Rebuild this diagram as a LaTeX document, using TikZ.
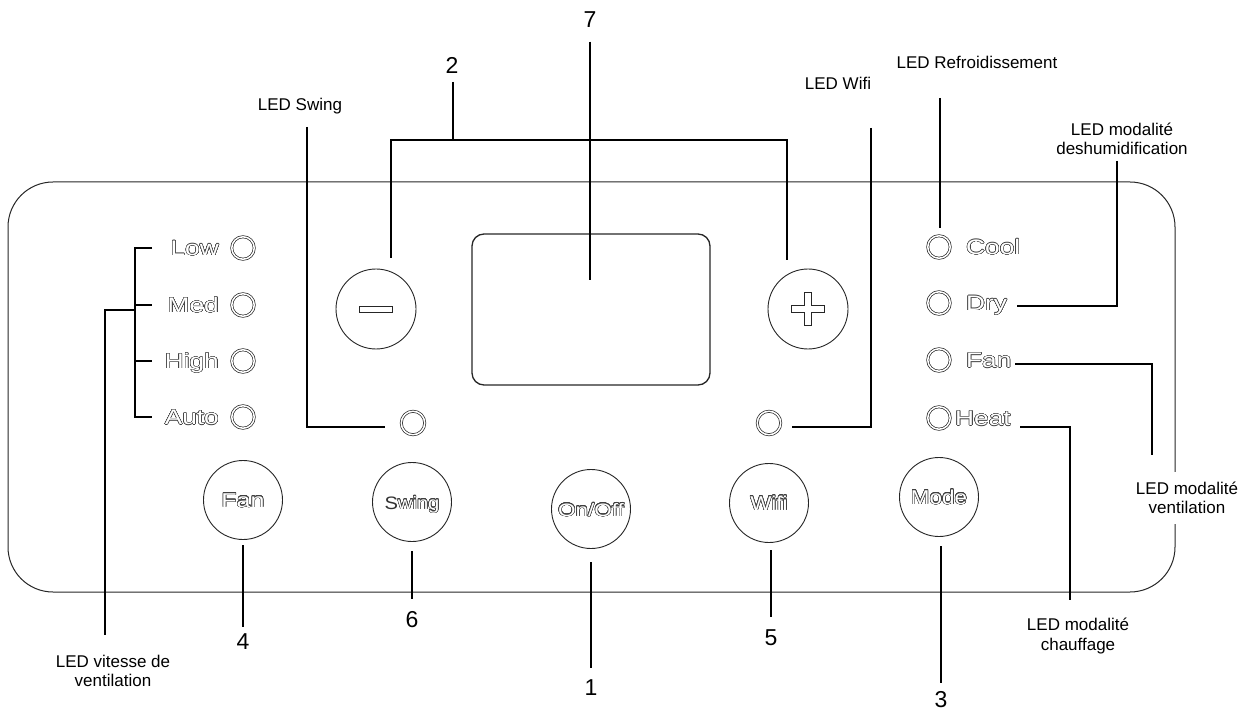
\documentclass[tikz,border=0pt]{standalone}
\usepackage{fontspec}
\setmainfont{Liberation Sans}
\newfontfamily\wideface[FakeStretch=1.25]{Liberation Sans}
\newfontfamily\btnface[FakeStretch=1.12]{Liberation Sans}
\usepackage[copies]{contour}
\contourlength{0.5pt}
\contournumber{24}
\newcommand{\hollow}[1]{{\color{white}\contour{black!75}{#1}}}
\begin{document}
\begin{tikzpicture}[x=1pt,y=-1pt,
  lead/.style={line width=2pt},
  btn/.style={circle, draw=black!85, line width=0.9pt, minimum size=79pt, inner sep=0pt, text height=14pt, text depth=0pt},
  topbtn/.style={circle, draw=black!85, line width=0.9pt, minimum size=80pt, inner sep=0pt},
  led/.style={circle, draw=black!85, line width=0.7pt, double, double distance=1.5pt, minimum size=22.5pt, inner sep=0pt},
  lbl/.style={font=\fontsize{17}{19.5}\selectfont, align=center, inner sep=0pt},
  num/.style={font=\fontsize{23}{23}\selectfont, inner sep=0pt},
  ledtxt/.style={font=\wideface\fontsize{21}{21}\selectfont, inner sep=0pt, text height=15pt, text depth=0pt},
]
\useasboundingbox (0,0) rectangle (1248,711);

% panel and display
\node[draw=black!85, line width=1pt, rounded corners=45pt, minimum width=1167pt, minimum height=410pt, inner sep=0pt] (panel) at (591.5,387) {};
\node[draw=black!85, line width=1.3pt, rounded corners=12pt, minimum width=238pt, minimum height=151pt, inner sep=0pt] (disp) at (591,309.5) {};

% minus / plus buttons
\node[topbtn] (minus) at (376,309) {};
\node[draw=black!85, line width=0.7pt, minimum width=33pt, minimum height=6pt, inner sep=0pt] (minusbar) at (minus) {};
\node[topbtn] (plus) at (808,309) {};
\draw[line width=0.7pt, draw=black!85] (804.5,292.5) -- (811.5,292.5) -- (811.5,305.5) -- (824.5,305.5) -- (824.5,312.5) -- (811.5,312.5) -- (811.5,325.5) -- (804.5,325.5) -- (804.5,312.5) -- (791.5,312.5) -- (791.5,305.5) -- (804.5,305.5) -- cycle;

% left LEDs
\node[led] (ledLow) at (243,248) {};
\node[led] (ledMed) at (243,305) {};
\node[led] (ledHigh) at (243,361) {};
\node[led] (ledAuto) at (243,417) {};
\node[ledtxt, anchor=east] (tLow) at (219,248) {\hollow{Low}};
\node[ledtxt, anchor=east] (tMed) at (219,305) {\hollow{Med}};
\node[ledtxt, anchor=east] (tHigh) at (219,361) {\hollow{High}};
\node[ledtxt, anchor=east] (tAuto) at (219,417) {\hollow{Auto}};

% right LEDs
\node[led] (ledCool) at (939,247) {};
\node[led] (ledDry) at (939,303) {};
\node[led] (ledFan) at (939,360) {};
\node[led] (ledHeat) at (939,418) {};
\node[ledtxt, anchor=west] (tCool) at (966,247) {\hollow{Cool}};
\node[ledtxt, anchor=west] (tDry) at (966,303) {\hollow{Dry}};
\node[ledtxt, anchor=west] (tFan) at (966,360) {\hollow{Fan}};
\node[ledtxt, anchor=west] (tHeat) at (955,418) {\hollow{Heat}};

% swing / wifi LEDs
\node[led, minimum size=23.5pt] (ledSwing) at (413,423) {};
\node[led, minimum size=23.5pt] (ledWifi) at (769,423) {};

% bottom buttons
\node[btn, font=\wideface\fontsize{20}{20}\selectfont] (bFan) at (243,500) {\hollow{Fan}};
\node[btn, font=\btnface\fontsize{18}{18}\selectfont] (bSwing) at (412,502) {{\color{black!80}S}\hollow{wing}};
\node[btn, font=\wideface\fontsize{18}{18}\selectfont] (bOn) at (591,509) {\hollow{On/Off}};
\node[btn, font=\btnface\fontsize{20}{20}\selectfont] (bWifi) at (769,503) {\hollow{Wifi}};
\node[btn, font=\btnface\fontsize{20}{20}\selectfont] (bMode) at (939,497) {\hollow{Mode}};

% numbers
\node[num] (n7) at (590,20) {7};
\node[num] (n2) at (452,65) {2};
\node[num] (n4) at (243,642) {4};
\node[num] (n6) at (412,620) {6};
\node[num] (n1) at (591,688) {1};
\node[num] (n5) at (771,638) {5};
\node[num] (n3) at (941,700) {3};

% leaders to numbers
\draw[lead] (243,545) -- ([yshift=6.5pt]n4.north);
\draw[lead] (412,551) -- ([yshift=12.5pt]n6.north);
\draw[lead] (591,562) -- ([yshift=11.5pt]n1.north);
\draw[lead] (771,550) -- ([yshift=12.5pt]n5.north);
\draw[lead] (941,546) -- ([yshift=9pt]n3.north);
\coordinate (d7) at (590,280);
\draw[lead] ([yshift=-13.5pt]n7.south) -- (d7);
\coordinate (k1) at (453,140);
\coordinate (kL) at (391,140);
\coordinate (kR) at (787,140);
\draw[lead] (453,82) -- (k1);
\draw[lead] (391,258) -- (kL) -- (kR) -- (787,260);

% left bracket
\coordinate (bT) at (135,248);
\coordinate (bB) at (135,417);
\draw[lead] (152,248) -- (bT) -- (bB) -- (152,417);
\draw[lead] (135,305) -- (152,305);
\draw[lead] (135,361) -- (152,361);
\node[lbl] (vitL) at (113,671) {LED vitesse de\\ventilation};
\draw[lead] (135,310) -- (105,310) -- (105,635);

% LED labels
\node[lbl] (swingL) at (300,106) {LED Swing};
\draw[lead] (307,127) -- (307,427) -- (385,427);
\node[lbl] (wifiL) at (838,83) {LED Wifi};
\draw[lead] (871,128) -- (871,427) -- (792,427);
\node[lbl] (coolL) at (977,62) {LED Refroidissement};
\draw[lead] (940,98) -- (940,228);
\node[lbl] (dryL) at (1122,139) {LED modalité\\deshumidification};
\draw[lead] (1117,161) -- (1117,306) -- (1017,306);
\node[lbl, fill=white, inner xsep=2pt, inner ysep=10pt] (fanL) at (1187,498) {LED modalité\\ventilation};
\draw[lead] (1015,364) -- (1152,364) -- (1152,455);
\node[lbl] (heatL) at (1078,636) {LED modalité\\chauffage};
\draw[lead] (1020,427) -- (1070,427) -- (1070,600);
\end{tikzpicture}
\end{document}
